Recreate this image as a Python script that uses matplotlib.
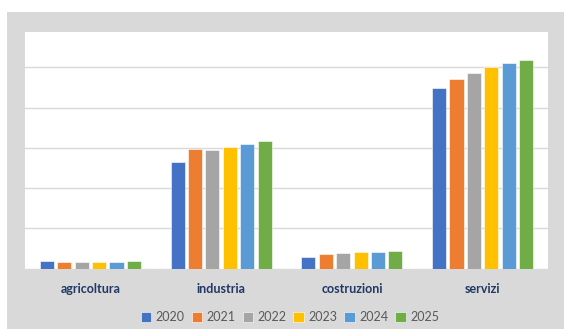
import matplotlib.pyplot as plt
from matplotlib.patches import Rectangle
import numpy as np

categories = ["agricoltura", "industria", "costruzioni", "servizi"]
years = ["2020", "2021", "2022", "2023", "2024", "2025"]

# one list per year, values in gridline units (the chart has no axis labels)
v2020 = [0.18, 2.64, 0.29, 4.48]
v2021 = [0.16, 2.96, 0.36, 4.71]
v2022 = [0.16, 2.94, 0.39, 4.86]
v2023 = [0.17, 3.03, 0.41, 5.01]
v2024 = [0.17, 3.10, 0.42, 5.10]
v2025 = [0.18, 3.16, 0.44, 5.18]
series = [v2020, v2021, v2022, v2023, v2024, v2025]

colors = ["#4472C4", "#ED7D31", "#A5A5A5", "#FFC000", "#5B9BD5", "#70AD47"]

plt.rcParams['font.family'] = ['Lato', 'DejaVu Sans']

fig = plt.figure(figsize=(5.64, 3.29), dpi=100)
fig.patch.set_facecolor("white")

# grey chart-area panel behind the plot area
fig.patches.append(Rectangle((7 / 564, 0), 1 - 7 / 564, 317 / 329,
                             transform=fig.transFigure, facecolor="#D9D9D9",
                             edgecolor="none", zorder=-10))

ax = fig.add_axes([25 / 564, 60.5 / 329, 523 / 564, 236.5 / 329])
ax.set_facecolor("white")

x = np.arange(len(categories))
pitch = 0.133
for j, vals in enumerate(series):
    ax.bar(x + (j - 2.5) * pitch, vals, width=0.108, color=colors[j],
           edgecolor="white", linewidth=0.4, label=years[j], zorder=3)

ax.set_xlim(-0.5, 3.5)
ax.set_ylim(0, 5.88)
ax.set_yticks(range(0, 6))
ax.yaxis.grid(True, color="#D9D9D9", linewidth=1.0, zorder=0)
ax.tick_params(left=False, labelleft=False, bottom=False)
ax.set_xticks(x)
ax.set_xticklabels(categories, fontsize=9, fontweight="bold", color="#1F3864")
ax.tick_params(axis="x", pad=7)
for s in ax.spines.values():
    s.set_visible(False)

fig.legend(loc="center", bbox_to_anchor=(290 / 564, 12 / 329), ncol=6,
           frameon=False, fontsize=9, labelcolor="#595959",
           handlelength=0.85, handleheight=0.85, handletextpad=0.35,
           columnspacing=0.55, borderpad=0)

fig.savefig("out.png", dpi=100)
